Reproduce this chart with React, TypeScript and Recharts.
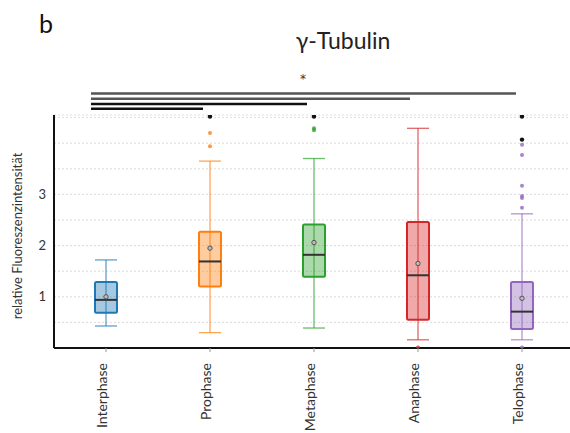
import { ComposedChart, Bar, Scatter, XAxis, YAxis, CartesianGrid } from 'recharts';

const categories = ['Interphase', 'Prophase', 'Metaphase', 'Anaphase', 'Telophase'];
const whiskerLow = [0.43, 0.3, 0.39, 0.16, 0.16];
const q1 = [0.69, 1.2, 1.39, 0.55, 0.37];
const medians = [0.94, 1.69, 1.82, 1.42, 0.71];
const q3 = [1.29, 2.27, 2.41, 2.46, 1.29];
const whiskerHigh = [1.72, 3.65, 3.7, 4.29, 2.62];
const means = [1.0, 1.95, 2.06, 1.65, 0.97];
const outliers = [[], [4.2, 3.94], [4.29, 4.25], [0.01], [3.97, 3.77, 3.17, 2.97, 2.93, 2.74, 0.01]];
const darkOutliers = [[], [4.52], [4.52], [], [4.52, 4.07]];
const yTicks = [0.5, 1, 1.5, 2, 2.5, 3, 3.5, 4, 4.5];
const yLabelTicks = [1, 2, 3];

const COLORS = ['#1f77b4', '#ff7f0e', '#2ca02c', '#d62728', '#9467bd'];
const FONT = 'Lato, "Open Sans", sans-serif';

const data = categories.map((name, i) => ({
  name,
  lo: whiskerLow[i],
  q1: q1[i],
  median: medians[i],
  q3: q3[i],
  hi: whiskerHigh[i],
  mean: means[i],
}));

const outlierData = categories.flatMap((name, i) => outliers[i].map((v) => ({ name, v })));
const darkOutlierData = categories.flatMap((name, i) => darkOutliers[i].map((v) => ({ name, v })));

const colorOf = (name: string) => COLORS[categories.indexOf(name)] || '#333';

const BoxShape = (props: any) => {
  const { x, y, width, height, payload } = props;
  const top = Math.min(y, y + height);
  const h = Math.abs(height);
  const c = colorOf(payload.name);
  return (
    <rect x={x} y={top} width={width} height={h} rx={1.5} fill={c} fillOpacity={0.4} stroke={c} strokeWidth={2} />
  );
};

const WhiskerShape = (props: any) => {
  const { x, y, width, height, payload } = props;
  const top = Math.min(y, y + height);
  const bottom = Math.max(y, y + height);
  const c = colorOf(payload.name);
  const cx = x + width / 2;
  return (
    <g stroke={c} strokeOpacity={0.7} strokeWidth={1.3}>
      <line x1={cx} x2={cx} y1={top} y2={bottom} />
      <line x1={x} x2={x + width} y1={top} y2={top} />
      <line x1={x} x2={x + width} y1={bottom} y2={bottom} />
    </g>
  );
};

const MedianShape = (props: any) => (
  <line x1={props.cx - 11} x2={props.cx + 11} y1={props.cy} y2={props.cy} stroke="#333" strokeWidth={2} />
);

const MeanShape = (props: any) => (
  <circle cx={props.cx} cy={props.cy} r={2.2} fill="#bbb" stroke="#555" strokeWidth={1} />
);

const OutlierShape = (props: any) => (
  <circle cx={props.cx} cy={props.cy} r={2} fill={colorOf(props.payload.name)} fillOpacity={0.8} />
);

const DarkOutlierShape = (props: any) => (
  <circle cx={props.cx} cy={props.cy} r={2.2} fill="#111" />
);

const XTick = (props: any) => {
  const { x, y, payload } = props;
  const ty = y + 9;
  return (
    <text x={x + 1} y={ty} transform={`rotate(-90 ${x + 1} ${ty})`} textAnchor="end" fontSize={14} fill="#333" fontFamily={FONT}>
      {payload.value}
    </text>
  );
};

const YLabel = () => (
  <text transform="translate(22 236) rotate(-90)" textAnchor="middle" fontSize={13} fill="#333" fontFamily={FONT}>
    relative Fluoreszenzintensität
  </text>
);

// significance brackets above the plot
const sigLines = [
  { y: 93.5, x2: 516, color: '#555' },
  { y: 98.7, x2: 410, color: '#555' },
  { y: 104, x2: 307, color: '#111' },
  { y: 108.7, x2: 203, color: '#111' },
];

export default function App() {
  return (
    <div style={{ position: 'absolute', left: 0, top: 0, width: 570, height: 433, overflow: 'hidden', background: '#fff', fontFamily: FONT }}>
      <div style={{ position: 'absolute', left: 39, top: 8, fontSize: 25, color: '#111' }}>b</div>
      <div style={{ position: 'absolute', left: 243, width: 200, top: 26, textAlign: 'center', fontSize: 23, color: '#222' }}>γ-Tubulin</div>
      <div style={{ position: 'absolute', left: 293, width: 20, top: 73, textAlign: 'center', fontSize: 12, lineHeight: '12px', color: '#333', fontFamily: '"DejaVu Sans", sans-serif' }}>*</div>
      <svg width={570} height={433} style={{ position: 'absolute', left: 0, top: 0 }}>
        {sigLines.map((l, i) => (
          <line key={i} x1={91} x2={l.x2} y1={l.y} y2={l.y} stroke={l.color} strokeWidth={2.4} />
        ))}
      </svg>
      <div style={{ position: 'absolute', left: 0, top: 0 }}>
        <ComposedChart width={600} height={433} data={data} margin={{ top: 115, right: 26, bottom: 0, left: 0 }}>
          <CartesianGrid vertical={false} stroke="#dcdcdc" strokeDasharray="2 2" />
          <XAxis
            dataKey="name"
            height={85}
            allowDuplicatedCategory={false}
            axisLine={{ stroke: '#111', strokeWidth: 2 }}
            tickLine={{ stroke: '#999' }}
            tickSize={4}
            tickMargin={2}
            interval={0}
            tick={<XTick />}
          />
          <XAxis xAxisId="w" dataKey="name" hide allowDuplicatedCategory={false} />
          <YAxis
            width={54}
            type="number"
            domain={[0, 4.55]}
            ticks={yTicks}
            allowDataOverflow
            tickFormatter={(v: number) => (yLabelTicks.includes(v) ? String(v) : '')}
            tickLine={false}
            axisLine={{ stroke: '#111', strokeWidth: 2 }}
            tick={{ fontSize: 13, fill: '#333', fontFamily: FONT }}
            label={<YLabel />}
          />
          <Bar xAxisId="w" dataKey={(d: any) => [d.lo, d.hi]} barSize={22} shape={<WhiskerShape />} isAnimationActive={false} />
          <Bar dataKey={(d: any) => [d.q1, d.q3]} barSize={22} shape={<BoxShape />} isAnimationActive={false} />
          <Scatter dataKey="median" shape={<MedianShape />} isAnimationActive={false} />
          <Scatter dataKey="mean" shape={<MeanShape />} isAnimationActive={false} />
          <Scatter data={outlierData} dataKey="v" shape={<OutlierShape />} isAnimationActive={false} />
          <Scatter data={darkOutlierData} dataKey="v" shape={<DarkOutlierShape />} isAnimationActive={false} />
        </ComposedChart>
      </div>
    </div>
  );
}
